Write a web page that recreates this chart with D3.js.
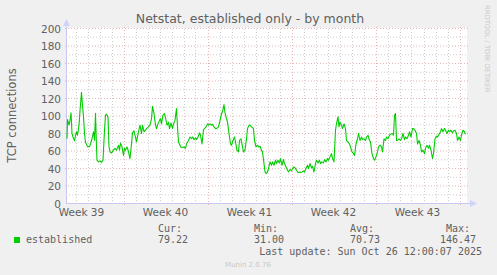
<!DOCTYPE html>
<meta charset="utf-8">
<script src="https://d3js.org/d3.v7.min.js"></script>
<style>
  body { margin: 0; background: #f0f0f0; }
  text { font-family: "DejaVu Sans", sans-serif; }
  .mono { font-family: "DejaVu Sans Mono", monospace; }
</style>
<body>
<div id="chart"></div>
<script>

// time window of the graph (UTC), munin "by month" = ~33 days
var startTime = new Date(Date.UTC(2025, 8, 24, 7, 0));
var endTime = new Date(Date.UTC(2025, 9, 27, 15, 0));

// hours after startTime, and established connections at that time
var hourOffsets = [0, 1, 4, 6, 8, 10, 12, 15, 17, 19, 21, 24, 26, 29, 31, 33, 35, 37, 41, 45,
  47, 50, 53, 55, 57, 59, 60, 63, 66, 69, 72, 75, 77, 79, 82, 84, 86, 89, 93, 96,
  99, 103, 105, 107, 110, 113, 115, 117, 120, 123, 126, 129, 131, 134, 136, 139, 143, 146, 149, 151,
  154, 157, 159, 163, 166, 169, 171, 174, 177, 179, 182, 185, 187, 189, 192, 195, 197, 200, 203, 205,
  208, 211, 213, 216, 219, 221, 223, 225, 227, 231, 234, 237, 239, 243, 246, 249, 251, 254, 257, 259,
  262, 265, 267, 270, 273, 275, 278, 281, 283, 286, 289, 291, 294, 297, 299, 303, 306, 309, 311, 314,
  316, 319, 321, 324, 327, 329, 332, 335, 337, 340, 343, 345, 348, 351, 353, 356, 359, 361, 364, 366,
  369, 373, 375, 378, 381, 383, 386, 389, 391, 394, 396, 398, 401, 403, 406, 409, 411, 414, 417, 419,
  422, 425, 427, 430, 433, 435, 438, 441, 443, 446, 449, 451, 454, 457, 459, 462, 465, 467, 470, 473,
  475, 478, 481, 483, 486, 489, 491, 494, 497, 499, 502, 505, 507, 510, 513, 515, 518, 521, 523, 526,
  529, 531, 534, 537, 539, 542, 544, 546, 549, 551, 554, 557, 559, 562, 565, 567, 570, 573, 575, 578,
  581, 583, 586, 589, 591, 594, 597, 599, 602, 605, 607, 610, 613, 615, 618, 621, 623, 626, 629, 631,
  634, 637, 639, 642, 645, 647, 650, 653, 655, 657, 659, 661, 664, 667, 669, 672, 675, 677, 680, 683,
  685, 688, 691, 693, 696, 699, 701, 704, 707, 709, 712, 715, 717, 720, 723, 725, 728, 731, 733, 736,
  739, 741, 744, 747, 749, 752, 755, 757, 760, 763, 765, 768, 771, 773, 776, 779, 781, 784, 787, 789,
  792, 795, 797];
var established = [74, 96, 89.5, 95, 103.6, 80, 76, 71.6, 78, 82, 78, 89.5, 106, 127, 112, 99, 80, 70, 65, 65,
  68, 74, 82, 72, 103, 64.7, 49.5, 47.6, 48.7, 47, 49.5, 83.7, 100.9, 102, 99, 64.7, 59, 57.8, 61, 63,
  61, 66.6, 61, 69, 64.7, 55, 63, 61, 64.7, 59, 51.4, 68, 80.7, 83, 78, 70.4, 82, 89.5, 80, 89.5,
  82, 83.7, 85.6, 87.5, 89.5, 97, 111, 102.8, 89.5, 85.6, 91, 95, 97, 91, 100.9, 102.8, 98, 89.5, 93, 85.6,
  92, 85.6, 91, 95, 108.6, 87.5, 70.4, 68, 64.7, 64, 64.7, 63, 68, 72, 76, 74, 76, 73, 75, 73,
  76, 80.7, 78, 68, 84.5, 85.6, 87.5, 91, 89.5, 91, 89.5, 90.6, 87.5, 85.6, 85.6, 87.5, 95, 102.8, 104.7, 113,
  103.6, 97, 93, 80, 68, 66.6, 72, 76, 70.4, 61, 59, 72, 74, 64.7, 59, 61, 74, 85.6, 89.5, 89.5,
  87.5, 85.6, 72, 64.7, 66.6, 64.7, 65.5, 61, 59, 45.6, 36, 34.2, 36, 40, 47.6, 43.7, 47.6, 43.7, 49.5, 45.6,
  49.5, 46.4, 51.4, 43.7, 50.2, 45.6, 41.8, 38, 36, 38.8, 37.3, 40, 41.8, 40, 38, 35.4, 36, 35.4, 36, 37.3,
  36, 40, 43.7, 40, 45.6, 41, 42.6, 36, 45.6, 49.5, 46.4, 49.5, 45.6, 47.6, 46.4, 50.2, 47.6, 51.4, 49.5, 53.3,
  57, 51.4, 47.6, 83.7, 91.4, 99, 87.5, 93, 89.5, 85.6, 91, 85.6, 72, 70.4, 68, 64.7, 59, 57, 55, 68,
  74, 80, 72, 76, 73, 74, 72, 76, 78, 72, 70.4, 57, 51.4, 49.5, 53.3, 59, 64.7, 66.6, 64.7, 59,
  74, 72, 76, 74, 78, 79, 80, 78, 100.9, 102.8, 72, 72, 74, 72, 74, 80, 73, 76, 74, 78,
  82, 76, 85.6, 85.6, 83.7, 80, 68, 72, 66.6, 59, 61, 57, 63, 66.6, 63, 66.6, 61, 51.4, 57, 74,
  77, 76, 79, 82, 85.6, 82, 85.6, 83.7, 80, 83.7, 82, 83.7, 80.7, 83, 83.7, 80, 72, 76, 72, 78,
  83.7, 82, 79.22];

var yTicks = [0, 20, 40, 60, 80, 100, 120, 140, 160, 180, 200];
var weekLabels = ["Week 39", "Week 40", "Week 41", "Week 42", "Week 43"];
var weekMidpoints = [
  new Date(Date.UTC(2025, 8, 25, 12)), new Date(Date.UTC(2025, 9, 2, 12)),
  new Date(Date.UTC(2025, 9, 9, 12)), new Date(Date.UTC(2025, 9, 16, 12)),
  new Date(Date.UTC(2025, 9, 23, 12))];
var statNames = ["Cur:", "Min:", "Avg:", "Max:"];
var statValues = ["79.22", "31.00", "70.73", "146.47"];

var W = 497, H = 275;
var plot = {left: 67, right: 467, top: 28, bottom: 203};
var textColor = "#606060";

var svg = d3.select("#chart").append("svg")
    .attr("width", W)
    .attr("height", H);

svg.append("rect").attr("width", W).attr("height", H).attr("fill", "#f0f0f0");
svg.append("rect")
    .attr("x", plot.left).attr("y", plot.top)
    .attr("width", plot.right - plot.left).attr("height", plot.bottom - plot.top)
    .attr("fill", "#ffffff");

var x = d3.scaleUtc().domain([startTime, endTime]).range([plot.left, plot.right]);
var y = d3.scaleLinear().domain([0, 200]).range([plot.bottom + 0.5, plot.top + 0.5]);

// grid: minor every 10, major every 20
var grid = svg.append("g");
d3.range(10, 200, 20).forEach(function(v) {
  grid.append("line")
    .attr("x1", plot.left - 1).attr("x2", plot.right + 1)
    .attr("y1", y(v)).attr("y2", y(v))
    .attr("stroke", "#cfcfcf").attr("stroke-dasharray", "1,2");
});
var days = d3.utcDay.range(startTime, endTime).filter(function(d) { return d.getUTCDay() != 1; });
days.forEach(function(d) {
  grid.append("line")
    .attr("x1", Math.round(x(d)) + 0.5).attr("x2", Math.round(x(d)) + 0.5)
    .attr("y1", plot.bottom + 1).attr("y2", plot.top - 1)
    .attr("stroke", "#cfcfcf").attr("stroke-dasharray", "1,2");
});
yTicks.slice(1).forEach(function(v) {
  grid.append("line")
    .attr("x1", plot.left - 2).attr("x2", plot.right + 2)
    .attr("y1", y(v)).attr("y2", y(v))
    .attr("stroke", "#eab4b4").attr("stroke-dasharray", "1,2");
});
d3.utcMonday.range(startTime, endTime).forEach(function(d) {
  grid.append("line")
    .attr("x1", Math.round(x(d)) + 0.5).attr("x2", Math.round(x(d)) + 0.5)
    .attr("y1", plot.bottom + 2).attr("y2", plot.top - 2)
    .attr("stroke", "#eab4b4").attr("stroke-dasharray", "1,2");
});

// y labels
svg.append("g").selectAll("text")
  .data(yTicks).enter().append("text")
    .attr("x", plot.left - 6)
    .attr("y", function(d) { return y(d) + 4; })
    .attr("text-anchor", "end")
    .attr("font-size", "10.5px")
    .attr("fill", textColor)
    .text(function(d) { return d; });

// x labels
svg.append("g").selectAll("text")
  .data(weekMidpoints).enter().append("text")
    .attr("x", function(d) { return x(d); })
    .attr("y", 216)
    .attr("text-anchor", "middle")
    .attr("font-size", "10.5px")
    .attr("fill", textColor)
    .text(function(d, i) { return weekLabels[i]; });

// axes with arrows
var axisColor = "#c8c8f0";
svg.append("line")
  .attr("x1", plot.left - 0.5).attr("x2", plot.left - 0.5)
  .attr("y1", plot.bottom + 1).attr("y2", plot.top - 5)
  .attr("stroke", axisColor);
svg.append("line")
  .attr("x1", plot.left - 1).attr("x2", plot.right + 4)
  .attr("y1", plot.bottom + 0.5).attr("y2", plot.bottom + 0.5)
  .attr("stroke", axisColor);
svg.append("path")
  .attr("d", "M" + (plot.left - 4) + "," + (plot.top - 2) + "L" + (plot.left - 0.5) + "," + (plot.top - 9) + "L" + (plot.left + 3) + "," + (plot.top - 2) + "Z")
  .attr("fill", "#d0d4f8");
svg.append("path")
  .attr("d", "M" + (plot.right + 3) + "," + (plot.bottom - 3) + "L" + (plot.right + 10) + "," + (plot.bottom + 0.5) + "L" + (plot.right + 3) + "," + (plot.bottom + 4) + "Z")
  .attr("fill", "#d0d4f8");

// series
var line = d3.line()
  .x(function(d, i) { return x(d3.utcHour.offset(startTime, hourOffsets[i])); })
  .y(function(d) { return y(d); });
svg.append("path")
  .datum(established)
  .attr("d", line)
  .attr("fill", "none")
  .attr("stroke", "#00cc00")
  .attr("stroke-width", 1.1)
  .attr("stroke-linejoin", "round");

// titles
svg.append("text")
  .attr("x", 250).attr("y", 23)
  .attr("text-anchor", "middle")
  .attr("font-size", "12.5px")
  .attr("fill", textColor)
  .text("Netstat, established only - by month");

svg.append("text")
  .attr("transform", "translate(16," + ((plot.top + plot.bottom) / 2) + ") rotate(-90)")
  .attr("text-anchor", "middle")
  .attr("font-size", "11.5px")
  .attr("fill", textColor)
  .text("TCP connections");

svg.append("text")
  .attr("transform", "translate(485,5) rotate(90)")
  .attr("font-size", "6.8px")
  .attr("fill", "#c8c8c8")
  .text("RRDTOOL / TOBI OETIKER");

// legend
svg.append("rect")
  .attr("x", 14).attr("y", 237).attr("width", 6).attr("height", 6)
  .attr("fill", "#00cc00");
svg.append("text").attr("class", "mono")
  .attr("x", 26).attr("y", 243)
  .attr("font-size", "10px").attr("fill", textColor)
  .text("established");

var statRight = [182, 278, 374, 470];
svg.append("g").selectAll("text")
  .data(statNames).enter().append("text").attr("class", "mono")
    .attr("x", function(d, i) { return statRight[i]; })
    .attr("y", 232)
    .attr("text-anchor", "end")
    .attr("font-size", "10px").attr("fill", textColor)
    .text(function(d) { return d; });
svg.append("g").selectAll("text")
  .data(statValues).enter().append("text").attr("class", "mono")
    .attr("x", function(d, i) { return statRight[i] + 6; })
    .attr("y", 243)
    .attr("text-anchor", "end")
    .attr("font-size", "10px").attr("fill", textColor)
    .text(function(d) { return d; });

svg.append("text").attr("class", "mono")
  .attr("x", 482).attr("y", 255)
  .attr("text-anchor", "end")
  .attr("font-size", "10px").attr("fill", textColor)
  .text("Last update: Sun Oct 26 12:00:07 2025");

svg.append("text")
  .attr("x", 248).attr("y", 267)
  .attr("text-anchor", "middle")
  .attr("font-size", "7px").attr("fill", "#c8c8c8")
  .text("Munin 2.0.76");

</script>
</body>
